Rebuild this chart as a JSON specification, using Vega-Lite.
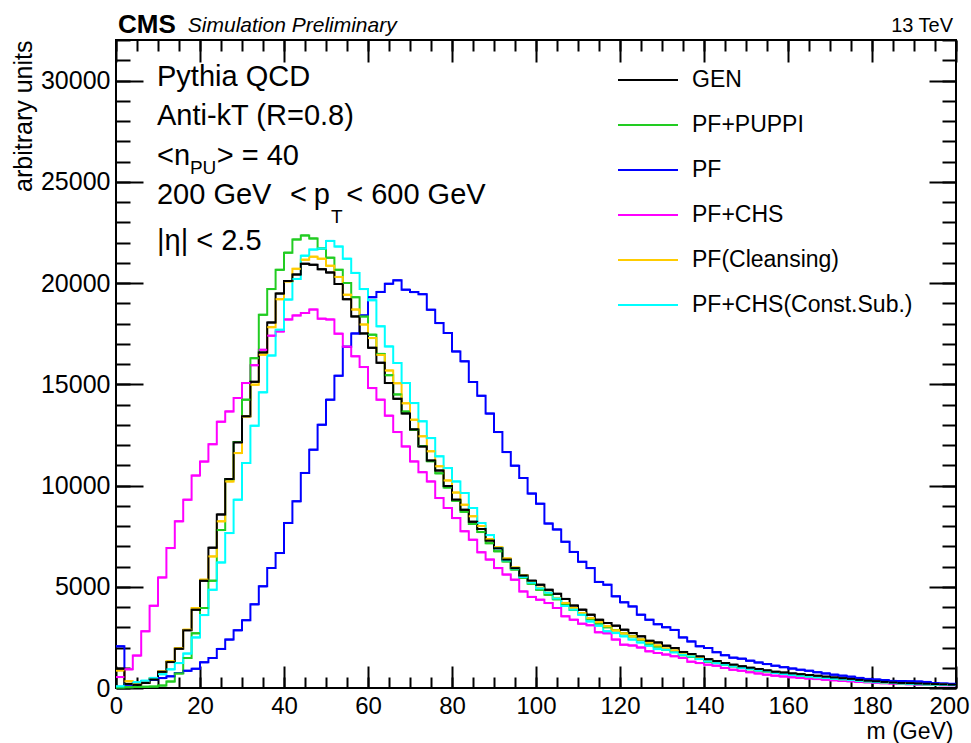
{
  "$schema": "https://vega.github.io/schema/vega-lite/v6.json",
  "width": 840,
  "height": 648,
  "autosize": {"type": "none"},
  "padding": {"left": 116, "top": 40, "right": 15, "bottom": 55},
  "background": "white",
  "config": {
    "font": "Liberation Sans",
    "view": {"stroke": "black", "strokeWidth": 2},
    "axis": {
      "domain": false, "grid": false, "tickColor": "black", "tickWidth": 2,
      "labelColor": "black", "labelFont": "Liberation Sans", "labelFontSize": 25,
      "titleFont": "Liberation Sans", "titleFontWeight": "normal", "titleColor": "black",
      "titleFontSize": 25, "labelFlush": false, "labelOverlap": false
    },
    "text": {"font": "Liberation Sans", "color": "black"}
  },
  "datasets": {
    "jetmass": [
      {"lo":0,"hi":2,"GEN":950,"PUPPI":30,"PF":2056,"CHS":540,"CLN":870,"CS":80},
      {"lo":2,"hi":4,"GEN":200,"PUPPI":40,"PF":165,"CHS":920,"CLN":330,"CS":200},
      {"lo":4,"hi":6,"GEN":160,"PUPPI":50,"PF":245,"CHS":1600,"CLN":200,"CS":280},
      {"lo":6,"hi":8,"GEN":250,"PUPPI":60,"PF":330,"CHS":2800,"CLN":280,"CS":360},
      {"lo":8,"hi":10,"GEN":420,"PUPPI":70,"PF":410,"CHS":4060,"CLN":480,"CS":500},
      {"lo":10,"hi":12,"GEN":800,"PUPPI":120,"PF":490,"CHS":5460,"CLN":820,"CS":680},
      {"lo":12,"hi":14,"GEN":1280,"PUPPI":320,"PF":575,"CHS":6910,"CLN":1320,"CS":920},
      {"lo":14,"hi":16,"GEN":1940,"PUPPI":720,"PF":740,"CHS":8230,"CLN":1970,"CS":1230},
      {"lo":16,"hi":18,"GEN":2850,"PUPPI":1480,"PF":850,"CHS":9300,"CLN":2880,"CS":1700},
      {"lo":18,"hi":20,"GEN":3870,"PUPPI":2700,"PF":950,"CHS":10490,"CLN":3950,"CS":2500},
      {"lo":20,"hi":22,"GEN":5300,"PUPPI":3950,"PF":1270,"CHS":11180,"CLN":5350,"CS":3600},
      {"lo":22,"hi":24,"GEN":6930,"PUPPI":5300,"PF":1480,"CHS":12040,"CLN":6500,"CS":4850},
      {"lo":24,"hi":26,"GEN":8570,"PUPPI":7800,"PF":1930,"CHS":13150,"CLN":8230,"CS":6200},
      {"lo":26,"hi":28,"GEN":10320,"PUPPI":10300,"PF":2390,"CHS":13660,"CLN":10200,"CS":7650},
      {"lo":28,"hi":30,"GEN":12130,"PUPPI":12150,"PF":2850,"CHS":14320,"CLN":11600,"CS":9300},
      {"lo":30,"hi":32,"GEN":13420,"PUPPI":14240,"PF":3350,"CHS":15060,"CLN":13410,"CS":11110},
      {"lo":32,"hi":34,"GEN":15120,"PUPPI":16290,"PF":4130,"CHS":15940,"CLN":14980,"CS":12950},
      {"lo":34,"hi":36,"GEN":16570,"PUPPI":18430,"PF":5020,"CHS":16700,"CLN":16460,"CS":14600},
      {"lo":36,"hi":38,"GEN":18050,"PUPPI":19700,"PF":5925,"CHS":17400,"CLN":17820,"CS":16420},
      {"lo":38,"hi":40,"GEN":19480,"PUPPI":20650,"PF":6665,"CHS":17610,"CLN":19200,"CS":17690},
      {"lo":40,"hi":42,"GEN":20100,"PUPPI":21500,"PF":8150,"CHS":18200,"CLN":20080,"CS":19180},
      {"lo":42,"hi":44,"GEN":20420,"PUPPI":22150,"PF":9220,"CHS":18400,"CLN":20700,"CS":20200},
      {"lo":44,"hi":46,"GEN":20950,"PUPPI":22350,"PF":10620,"CHS":18520,"CLN":21150,"CS":21350},
      {"lo":46,"hi":48,"GEN":20900,"PUPPI":22200,"PF":11770,"CHS":18690,"CLN":21300,"CS":21650},
      {"lo":48,"hi":50,"GEN":20680,"PUPPI":21700,"PF":13000,"CHS":18240,"CLN":21200,"CS":21700},
      {"lo":50,"hi":52,"GEN":20520,"PUPPI":21250,"PF":14240,"CHS":18200,"CLN":20850,"CS":22080},
      {"lo":52,"hi":54,"GEN":19950,"PUPPI":20650,"PF":15420,"CHS":17500,"CLN":20300,"CS":21800},
      {"lo":54,"hi":56,"GEN":19200,"PUPPI":20000,"PF":16850,"CHS":16850,"CLN":19420,"CS":21200},
      {"lo":56,"hi":58,"GEN":18350,"PUPPI":19300,"PF":17510,"CHS":16380,"CLN":18690,"CS":20500},
      {"lo":58,"hi":60,"GEN":17510,"PUPPI":18350,"PF":18400,"CHS":15850,"CLN":17950,"CS":19700},
      {"lo":60,"hi":62,"GEN":16800,"PUPPI":17450,"PF":19300,"CHS":14810,"CLN":17280,"CS":19150},
      {"lo":62,"hi":64,"GEN":16060,"PUPPI":16500,"PF":19560,"CHS":14240,"CLN":16450,"CS":17860},
      {"lo":64,"hi":66,"GEN":15060,"PUPPI":15450,"PF":19960,"CHS":13450,"CLN":15680,"CS":16870},
      {"lo":66,"hi":68,"GEN":14280,"PUPPI":14500,"PF":20130,"CHS":12640,"CLN":15050,"CS":16050},
      {"lo":68,"hi":70,"GEN":13560,"PUPPI":13650,"PF":19670,"CHS":11930,"CLN":14060,"CS":15060},
      {"lo":70,"hi":72,"GEN":12770,"PUPPI":12750,"PF":19550,"CHS":11190,"CLN":13250,"CS":14070},
      {"lo":72,"hi":74,"GEN":11930,"PUPPI":11950,"PF":19450,"CHS":10660,"CLN":12430,"CS":13170},
      {"lo":74,"hi":76,"GEN":11230,"PUPPI":11200,"PF":18680,"CHS":10200,"CLN":11690,"CS":12340},
      {"lo":76,"hi":78,"GEN":10740,"PUPPI":10600,"PF":18020,"CHS":9380,"CLN":10950,"CS":11440},
      {"lo":78,"hi":80,"GEN":9970,"PUPPI":9900,"PF":17530,"CHS":8890,"CLN":10250,"CS":10860},
      {"lo":80,"hi":82,"GEN":9300,"PUPPI":9250,"PF":16620,"CHS":8390,"CLN":9650,"CS":10200},
      {"lo":82,"hi":84,"GEN":8800,"PUPPI":8700,"PF":16130,"CHS":7740,"CLN":9050,"CS":9630},
      {"lo":84,"hi":86,"GEN":8210,"PUPPI":8100,"PF":15110,"CHS":7320,"CLN":8480,"CS":8890},
      {"lo":86,"hi":88,"GEN":7850,"PUPPI":7700,"PF":14430,"CHS":6700,"CLN":8000,"CS":8150},
      {"lo":88,"hi":90,"GEN":7280,"PUPPI":7150,"PF":13550,"CHS":6340,"CLN":7350,"CS":7550},
      {"lo":90,"hi":92,"GEN":6900,"PUPPI":6750,"PF":12640,"CHS":5920,"CLN":6950,"CS":6900},
      {"lo":92,"hi":94,"GEN":6340,"PUPPI":6250,"PF":11650,"CHS":5600,"CLN":6400,"CS":6300},
      {"lo":94,"hi":96,"GEN":5920,"PUPPI":5850,"PF":10980,"CHS":5350,"CLN":5950,"CS":5900},
      {"lo":96,"hi":98,"GEN":5550,"PUPPI":5450,"PF":10370,"CHS":4770,"CLN":5550,"CS":5480},
      {"lo":98,"hi":100,"GEN":5300,"PUPPI":5150,"PF":9600,"CHS":4500,"CLN":5250,"CS":5200},
      {"lo":100,"hi":102,"GEN":5100,"PUPPI":4850,"PF":9100,"CHS":4360,"CLN":4950,"CS":4920},
      {"lo":102,"hi":104,"GEN":4850,"PUPPI":4600,"PF":8120,"CHS":4195,"CLN":4700,"CS":4700},
      {"lo":104,"hi":106,"GEN":4650,"PUPPI":4380,"PF":7830,"CHS":3950,"CLN":4450,"CS":4420},
      {"lo":106,"hi":108,"GEN":4400,"PUPPI":4150,"PF":7220,"CHS":3540,"CLN":4200,"CS":4050},
      {"lo":108,"hi":110,"GEN":4070,"PUPPI":3850,"PF":6720,"CHS":3370,"CLN":3950,"CS":3870},
      {"lo":110,"hi":112,"GEN":3870,"PUPPI":3650,"PF":6230,"CHS":3175,"CLN":3700,"CS":3620},
      {"lo":112,"hi":114,"GEN":3620,"PUPPI":3400,"PF":5920,"CHS":3100,"CLN":3450,"CS":3290},
      {"lo":114,"hi":116,"GEN":3370,"PUPPI":3180,"PF":5240,"CHS":2750,"CLN":3250,"CS":3080},
      {"lo":116,"hi":118,"GEN":3210,"PUPPI":3000,"PF":5100,"CHS":2700,"CLN":3050,"CS":2800},
      {"lo":118,"hi":120,"GEN":3080,"PUPPI":2850,"PF":4525,"CHS":2390,"CLN":2850,"CS":2710},
      {"lo":120,"hi":122,"GEN":2880,"PUPPI":2700,"PF":4230,"CHS":2140,"CLN":2700,"CS":2550},
      {"lo":122,"hi":124,"GEN":2710,"PUPPI":2550,"PF":4030,"CHS":2100,"CLN":2550,"CS":2390},
      {"lo":124,"hi":126,"GEN":2550,"PUPPI":2380,"PF":3620,"CHS":2000,"CLN":2400,"CS":2250},
      {"lo":126,"hi":128,"GEN":2330,"PUPPI":2150,"PF":3370,"CHS":1810,"CLN":2250,"CS":2090},
      {"lo":128,"hi":130,"GEN":2250,"PUPPI":2050,"PF":3150,"CHS":1730,"CLN":2100,"CS":1920},
      {"lo":130,"hi":132,"GEN":2090,"PUPPI":1900,"PF":3000,"CHS":1650,"CLN":1950,"CS":1890},
      {"lo":132,"hi":134,"GEN":1970,"PUPPI":1800,"PF":2870,"CHS":1570,"CLN":1850,"CS":1760},
      {"lo":134,"hi":136,"GEN":1780,"PUPPI":1620,"PF":2500,"CHS":1480,"CLN":1700,"CS":1640},
      {"lo":136,"hi":138,"GEN":1680,"PUPPI":1530,"PF":2300,"CHS":1300,"CLN":1600,"CS":1560},
      {"lo":138,"hi":140,"GEN":1560,"PUPPI":1430,"PF":2060,"CHS":1230,"CLN":1500,"CS":1430},
      {"lo":140,"hi":142,"GEN":1420,"PUPPI":1300,"PF":1974,"CHS":1150,"CLN":1380,"CS":1320},
      {"lo":142,"hi":144,"GEN":1330,"PUPPI":1230,"PF":1770,"CHS":1100,"CLN":1280,"CS":1230},
      {"lo":144,"hi":146,"GEN":1230,"PUPPI":1150,"PF":1620,"CHS":990,"CLN":1180,"CS":1150},
      {"lo":146,"hi":148,"GEN":1150,"PUPPI":1070,"PF":1500,"CHS":900,"CLN":1100,"CS":1070},
      {"lo":148,"hi":150,"GEN":1070,"PUPPI":1000,"PF":1450,"CHS":850,"CLN":1020,"CS":990},
      {"lo":150,"hi":152,"GEN":1000,"PUPPI":930,"PF":1350,"CHS":780,"CLN":950,"CS":940},
      {"lo":152,"hi":154,"GEN":940,"PUPPI":870,"PF":1260,"CHS":720,"CLN":880,"CS":870},
      {"lo":154,"hi":156,"GEN":870,"PUPPI":810,"PF":1180,"CHS":660,"CLN":820,"CS":820},
      {"lo":156,"hi":158,"GEN":800,"PUPPI":740,"PF":1100,"CHS":610,"CLN":760,"CS":740},
      {"lo":158,"hi":160,"GEN":760,"PUPPI":690,"PF":1030,"CHS":570,"CLN":700,"CS":690},
      {"lo":160,"hi":162,"GEN":720,"PUPPI":650,"PF":960,"CHS":530,"CLN":650,"CS":640},
      {"lo":162,"hi":164,"GEN":680,"PUPPI":610,"PF":900,"CHS":500,"CLN":610,"CS":600},
      {"lo":164,"hi":166,"GEN":640,"PUPPI":580,"PF":850,"CHS":470,"CLN":570,"CS":560},
      {"lo":166,"hi":168,"GEN":600,"PUPPI":540,"PF":780,"CHS":440,"CLN":530,"CS":520},
      {"lo":168,"hi":170,"GEN":560,"PUPPI":510,"PF":720,"CHS":410,"CLN":500,"CS":490},
      {"lo":170,"hi":172,"GEN":520,"PUPPI":470,"PF":660,"CHS":380,"CLN":460,"CS":450},
      {"lo":172,"hi":174,"GEN":480,"PUPPI":440,"PF":610,"CHS":350,"CLN":430,"CS":420},
      {"lo":174,"hi":176,"GEN":450,"PUPPI":410,"PF":560,"CHS":330,"CLN":400,"CS":390},
      {"lo":176,"hi":178,"GEN":400,"PUPPI":370,"PF":500,"CHS":300,"CLN":360,"CS":350},
      {"lo":178,"hi":180,"GEN":360,"PUPPI":330,"PF":450,"CHS":280,"CLN":330,"CS":320},
      {"lo":180,"hi":182,"GEN":330,"PUPPI":300,"PF":420,"CHS":260,"CLN":300,"CS":290},
      {"lo":182,"hi":184,"GEN":300,"PUPPI":280,"PF":390,"CHS":240,"CLN":270,"CS":270},
      {"lo":184,"hi":186,"GEN":270,"PUPPI":250,"PF":350,"CHS":220,"CLN":250,"CS":250},
      {"lo":186,"hi":188,"GEN":250,"PUPPI":230,"PF":340,"CHS":200,"CLN":230,"CS":220},
      {"lo":188,"hi":190,"GEN":240,"PUPPI":210,"PF":330,"CHS":190,"CLN":210,"CS":200},
      {"lo":190,"hi":192,"GEN":220,"PUPPI":200,"PF":320,"CHS":170,"CLN":195,"CS":190},
      {"lo":192,"hi":194,"GEN":210,"PUPPI":180,"PF":300,"CHS":160,"CLN":180,"CS":170},
      {"lo":194,"hi":196,"GEN":195,"PUPPI":170,"PF":240,"CHS":150,"CLN":170,"CS":160},
      {"lo":196,"hi":198,"GEN":180,"PUPPI":160,"PF":220,"CHS":140,"CLN":160,"CS":150},
      {"lo":198,"hi":200,"GEN":165,"PUPPI":150,"PF":210,"CHS":130,"CLN":150,"CS":140}
    ],
    "one": [{}]
  },
  "resolve": {"axis": {"x": "independent", "y": "independent"}},
  "layer": [
    {
      "description": "Histogram outlines: step-after line through the lower bin edges",
      "data": {"name": "jetmass"},
      "transform": [{"fold": ["PF", "CHS", "PUPPI", "CLN", "CS", "GEN"], "as": ["algo", "count"]}],
      "mark": {"type": "line", "interpolate": "step-after", "strokeWidth": 2},
      "encoding": {
        "x": {
          "field": "lo", "type": "quantitative",
          "scale": {"domain": [0, 200], "nice": false, "zero": false},
          "axis": {
            "orient": "bottom", "values": [0, 20, 40, 60, 80, 100, 120, 140, 160, 180, 200],
            "tickSize": -22, "labelPadding": 28, "labelFontSize": 24, "format": "d",
            "labelOffset": {"condition": {"test": "datum.value === 200", "value": -7}, "value": 0},
            "title": "m (GeV)", "titleX": 837, "titleY": 43, "titleAlign": "right", "titleBaseline": "middle",
            "titleFontSize": 23
          }
        },
        "y": {
          "field": "count", "type": "quantitative",
          "scale": {"domain": [0, 32000], "nice": false},
          "axis": {
            "orient": "left", "values": [0, 5000, 10000, 15000, 20000, 25000, 30000],
            "tickSize": -27, "labelPadding": 33, "format": "d",
            "title": "arbitrary units", "titleX": -93, "titleY": 0, "titleAngle": -90,
            "titleAlign": "right", "titleBaseline": "middle"
          }
        },
        "color": {
          "field": "algo", "type": "nominal",
          "scale": {
            "domain": ["GEN", "PUPPI", "PF", "CHS", "CLN", "CS"],
            "range": ["#000000", "#22cc22", "#0000ff", "#ff00ff", "#ffcc00", "#00ffff"]
          },
          "legend": {
            "orient": "none", "legendX": 501, "legendY": 9, "padding": 0, "title": null,
            "symbolType": "stroke", "symbolSize": 3600, "symbolStrokeWidth": 2,
            "labelFontSize": 23, "labelFont": "Liberation Sans", "labelColor": "black",
            "labelOffset": 13, "rowPadding": 2, "labelLimit": 400,
            "labelExpr": "{'GEN': 'GEN', 'PUPPI': 'PF+PUPPI', 'PF': 'PF', 'CHS': 'PF+CHS', 'CLN': 'PF(Cleansing)', 'CS': 'PF+CHS(Const.Sub.)'}[datum.label]"
          }
        }
      }
    },
    {
      "description": "Full-width bin tops, so the first and last bins are complete",
      "data": {"name": "jetmass"},
      "transform": [{"fold": ["PF", "CHS", "PUPPI", "CLN", "CS", "GEN"], "as": ["algo", "count"]}],
      "mark": {"type": "rule", "strokeWidth": 2},
      "encoding": {
        "x": {
          "field": "lo", "type": "quantitative",
          "axis": {"orient": "bottom", "values": [0,5,10,15,20,25,30,35,40,45,50,55,60,65,70,75,80,85,90,95,100,105,110,115,120,125,130,135,140,145,150,155,160,165,170,175,180,185,190,195,200], "tickSize": -11, "labels": false, "title": null}
        },
        "x2": {"field": "hi"},
        "y": {
          "field": "count", "type": "quantitative",
          "axis": {"orient": "left", "values": [0,1000,2000,3000,4000,5000,6000,7000,8000,9000,10000,11000,12000,13000,14000,15000,16000,17000,18000,19000,20000,21000,22000,23000,24000,25000,26000,27000,28000,29000,30000,31000,32000], "tickSize": -14, "labels": false, "title": null}
        },
        "color": {"field": "algo", "type": "nominal"}
      }
    },
    {
      "data": {"name": "one"},
      "mark": {"type": "text", "text": "Pythia QCD", "align": "left", "baseline": "alphabetic", "fontSize": 29},
      "encoding": {
        "x": {"datum": 9.76, "type": "quantitative", "axis": {"orient": "top", "values": [0, 20, 40, 60, 80, 100, 120, 140, 160, 180, 200], "tickSize": -22, "labels": false, "title": null}},
        "y": {"datum": 29742, "type": "quantitative", "axis": {"orient": "right", "values": [0, 5000, 10000, 15000, 20000, 25000, 30000], "tickSize": -27, "labels": false, "title": null}}
      }
    },
    {
      "data": {"name": "one"},
      "mark": {"type": "text", "text": "Anti-kT (R=0.8)", "align": "left", "baseline": "alphabetic", "fontSize": 29},
      "encoding": {
        "x": {"datum": 9.76, "type": "quantitative", "axis": {"orient": "top", "values": [0,5,10,15,20,25,30,35,40,45,50,55,60,65,70,75,80,85,90,95,100,105,110,115,120,125,130,135,140,145,150,155,160,165,170,175,180,185,190,195,200], "tickSize": -11, "labels": false, "title": null}},
        "y": {"datum": 27816, "type": "quantitative", "axis": {"orient": "right", "values": [0,1000,2000,3000,4000,5000,6000,7000,8000,9000,10000,11000,12000,13000,14000,15000,16000,17000,18000,19000,20000,21000,22000,23000,24000,25000,26000,27000,28000,29000,30000,31000,32000], "tickSize": -14, "labels": false, "title": null}}
      }
    },
    {
      "data": {"name": "one"},
      "mark": {"type": "text", "text": "<n", "align": "left", "baseline": "alphabetic", "fontSize": 29},
      "encoding": {"x": {"datum": 9.76, "type": "quantitative", "axis": null}, "y": {"datum": 25806, "type": "quantitative", "axis": null}}
    },
    {
      "data": {"name": "one"},
      "mark": {"type": "text", "text": "PU", "align": "left", "baseline": "alphabetic", "fontSize": 19},
      "encoding": {"x": {"datum": 17.6, "type": "quantitative", "axis": null}, "y": {"datum": 25394, "type": "quantitative", "axis": null}}
    },
    {
      "data": {"name": "one"},
      "mark": {"type": "text", "text": "> = 40", "align": "left", "baseline": "alphabetic", "fontSize": 29},
      "encoding": {"x": {"datum": 23.98, "type": "quantitative", "axis": null}, "y": {"datum": 25806, "type": "quantitative", "axis": null}}
    },
    {
      "data": {"name": "one"},
      "mark": {"type": "text", "text": "200 GeV", "align": "left", "baseline": "alphabetic", "fontSize": 29},
      "encoding": {"x": {"datum": 9.76, "type": "quantitative", "axis": null}, "y": {"datum": 23915, "type": "quantitative", "axis": null}}
    },
    {
      "data": {"name": "one"},
      "mark": {"type": "text", "text": "<", "align": "left", "baseline": "alphabetic", "fontSize": 29},
      "encoding": {"x": {"datum": 41.4, "type": "quantitative", "axis": null}, "y": {"datum": 23915, "type": "quantitative", "axis": null}}
    },
    {
      "data": {"name": "one"},
      "mark": {"type": "text", "text": "p", "align": "left", "baseline": "alphabetic", "fontSize": 29},
      "encoding": {"x": {"datum": 47.1, "type": "quantitative", "axis": null}, "y": {"datum": 23915, "type": "quantitative", "axis": null}}
    },
    {
      "data": {"name": "one"},
      "mark": {"type": "text", "text": "T", "align": "left", "baseline": "alphabetic", "fontSize": 19},
      "encoding": {"x": {"datum": 51.2, "type": "quantitative", "axis": null}, "y": {"datum": 22950, "type": "quantitative", "axis": null}}
    },
    {
      "data": {"name": "one"},
      "mark": {"type": "text", "text": "< 600 GeV", "align": "left", "baseline": "alphabetic", "fontSize": 29},
      "encoding": {"x": {"datum": 54.8, "type": "quantitative", "axis": null}, "y": {"datum": 23915, "type": "quantitative", "axis": null}}
    },
    {
      "data": {"name": "one"},
      "mark": {"type": "text", "text": "|η| < 2.5", "align": "left", "baseline": "alphabetic", "fontSize": 29},
      "encoding": {"x": {"datum": 9.76, "type": "quantitative", "axis": null}, "y": {"datum": 21609, "type": "quantitative", "axis": null}}
    },
    {
      "data": {"name": "one"},
      "mark": {"type": "text", "text": "CMS", "align": "left", "baseline": "alphabetic", "fontSize": 26, "fontWeight": "bold"},
      "encoding": {"x": {"datum": 0.48, "type": "quantitative", "axis": null}, "y": {"datum": 32344, "type": "quantitative", "axis": null}}
    },
    {
      "data": {"name": "one"},
      "mark": {"type": "text", "text": "Simulation Preliminary", "align": "left", "baseline": "alphabetic", "fontSize": 21, "fontStyle": "italic"},
      "encoding": {"x": {"datum": 17.1, "type": "quantitative", "axis": null}, "y": {"datum": 32400, "type": "quantitative", "axis": null}}
    },
    {
      "data": {"name": "one"},
      "mark": {"type": "text", "text": "13 TeV", "align": "right", "baseline": "alphabetic", "fontSize": 20},
      "encoding": {"x": {"datum": 199.3, "type": "quantitative", "axis": null}, "y": {"datum": 32400, "type": "quantitative", "axis": null}}
    }
  ]
}
